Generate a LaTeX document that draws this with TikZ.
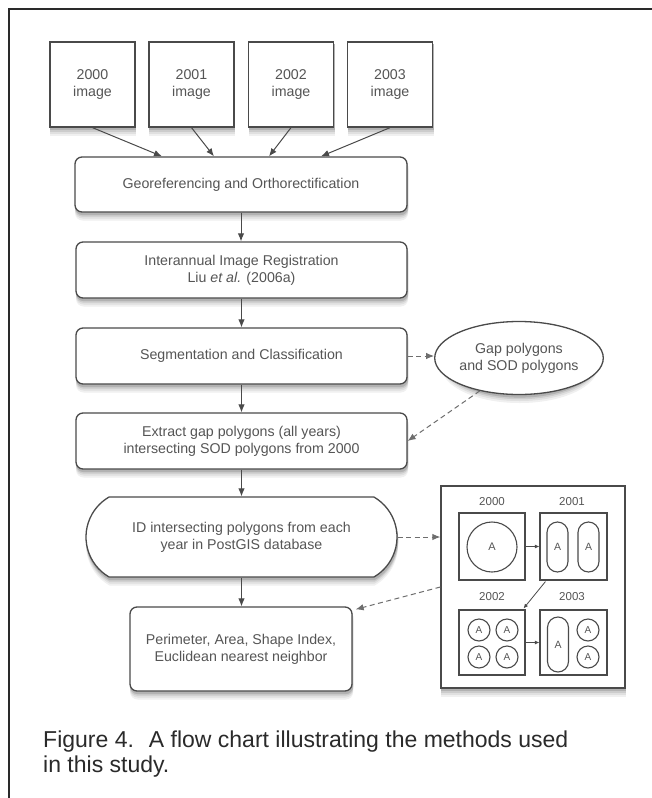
\documentclass[tikz,border=0pt]{standalone}
\usepackage{fontspec}
\setmainfont{Liberation Sans}
\usetikzlibrary{shapes.geometric,shapes.misc,arrows.meta,calc}
\definecolor{linegray}{HTML}{4A4A4A}
\definecolor{txtgray}{HTML}{555555}
\definecolor{capgray}{HTML}{2A2A2A}
% soft drop shadow: stacked grey copies of a shape, shifted down
\newcommand\ghostat[4]{% #1 shape style, #2 x, #3 y, #4 name
  \foreach \dd/\cc/\nn in {8/6/a,6/12/b,4.2/20/c,2.6/30/d}{
    \node[#1, fill=black!\cc, draw=black!\cc, line width=1pt] (gh-#4-\nn) at (#2+0.6,#3+\dd) {};}}
\begin{document}
\begin{tikzpicture}[x=1pt,y=-1pt,
  shimg/.style={rectangle, minimum width=85pt, minimum height=85pt, inner sep=0pt},
  shproc/.style={rectangle, rounded corners=7pt, minimum width=331pt, minimum height=56pt, inner sep=0pt},
  shgeo/.style={rectangle, rounded corners=7pt, minimum width=332pt, minimum height=55pt, inner sep=0pt},
  shid/.style={rounded rectangle, rounded rectangle arc length=120, minimum width=311pt, minimum height=80pt, inner sep=0pt},
  shper/.style={rectangle, rounded corners=7pt, minimum width=222pt, minimum height=84pt, inner sep=0pt},
  shgap/.style={ellipse, minimum width=156pt, minimum height=73pt, inner sep=0pt},
  shcomp/.style={rectangle, minimum width=184pt, minimum height=202pt, inner sep=0pt},
  look/.style={draw=linegray, line width=1.3pt, fill=white, text=txtgray,
    align=center, font=\fontsize{14.2}{17}\selectfont},
  sub/.style={draw=linegray, line width=1.1pt, fill=white, inner sep=0pt},
  lab/.style={text=txtgray, font=\fontsize{11.5}{13}\selectfont, inner sep=0pt},
  bigc/.style={circle, draw=linegray, line width=1.1pt, minimum size=50pt, inner sep=0pt, text=txtgray, font=\fontsize{11}{13}\selectfont},
  smallc/.style={circle, draw=linegray, line width=1.1pt, minimum size=22pt, inner sep=0pt, text=txtgray, font=\fontsize{10}{12}\selectfont},
  caps/.style={rectangle, rounded corners=10.5pt, draw=linegray, line width=1.1pt, minimum width=21pt, inner sep=0pt, text=txtgray, font=\fontsize{10.5}{12}\selectfont},
  arr/.style={draw=linegray, line width=1pt, -{Latex[length=8pt,width=6.5pt]}},
  darr/.style={arr, dashed, dash pattern=on 5pt off 3.5pt, draw=linegray!80},
  iarr/.style={draw=linegray, line width=0.8pt, -{Latex[length=4.5pt,width=4pt]}},
  captext/.style={anchor=base west, inner sep=0pt, text=capgray, font=\fontsize{23}{27}\selectfont},
]
\useasboundingbox (0,0) rectangle (652,798);
\fill[white] (0,0) rectangle (652,798);
% frame
\draw[line width=2.4pt, draw=capgray] (9,798) -- (9,9) -- (652,9);

% shadows
\ghostat{shimg}{92.5}{84.5}{img1}
\ghostat{shimg}{191.5}{84.5}{img2}
\ghostat{shimg}{291}{84.5}{img3}
\ghostat{shimg}{390}{84.5}{img4}
\ghostat{shgeo}{241}{184.5}{geo}
\ghostat{shproc}{241.5}{270}{inter}
\ghostat{shproc}{241.5}{356}{seg}
\ghostat{shproc}{241.5}{441}{extract}
\ghostat{shid}{241.5}{537}{idn}
\ghostat{shper}{241}{649}{perim}
\ghostat{shgap}{519}{358}{gap}
\ghostat{shcomp}{533}{587}{comp}

% image boxes
\node[look, shimg] (img1) at (92.5,84.5) {2000\\image};
\node[look, shimg] (img2) at (191.5,84.5) {2001\\image};
\node[look, shimg] (img3) at (291,84.5) {2002\\image};
\node[look, shimg] (img4) at (390,84.5) {2003\\image};

% process boxes
\node[look, shgeo] (geo) at (241,184.5) {Georeferencing and Orthorectification};
\node[look, shproc] (inter) at (241.5,270) {Interannual Image Registration\\Liu \textit{et al.} (2006a)};
\node[look, shproc] (seg) at (241.5,356) {Segmentation and Classification};
\node[look, shproc] (extract) at (241.5,441) {Extract gap polygons (all years)\\intersecting SOD polygons from 2000};
\node[look, shid] (idn) at (241.5,537) {ID intersecting polygons from each\\year in PostGIS database};
\node[look, shper] (perim) at (241,649) {Perimeter, Area, Shape Index,\\Euclidean nearest neighbor};

% ellipse
\node[look, shgap] (gap) at (519,358) {Gap polygons\\and SOD polygons};

% composite box
\node[look, shcomp] (comp) at (533,587) {};
\node[lab] (l0) at (492,502) {2000};
\node[lab] (l1) at (572,502) {2001};
\node[lab] (l2) at (492,597) {2002};
\node[lab] (l3) at (572,597) {2003};
\node[sub, minimum width=66pt, minimum height=67pt] (s0) at (492,546.5) {};
\node[sub, minimum width=67pt, minimum height=67pt] (s1) at (573.5,546.5) {};
\node[sub, minimum width=66pt, minimum height=65pt] (s2) at (492,642.5) {};
\node[sub, minimum width=67pt, minimum height=65pt] (s3) at (573.5,642.5) {};
\node[bigc] (c0) at (492,547) {A};
\node[caps, minimum height=50pt] (p1) at (557.5,547) {A};
\node[caps, minimum height=50pt] (p2) at (588.5,547) {A};
\node[smallc] (q1) at (479,630) {A};
\node[smallc] (q2) at (507,630) {A};
\node[smallc] (q3) at (479,657) {A};
\node[smallc] (q4) at (507,657) {A};
\node[caps, minimum height=55pt] (p3) at (558,644.5) {A};
\node[smallc] (q5) at (588,630) {A};
\node[smallc] (q6) at (588,657) {A};

% inner arrows
\draw[iarr] (s0.east) -- (s1.west);
\draw[iarr] ($(s1.south west)+(6,1)$) -- ($(s2.north east)+(-2,-1)$);
\draw[iarr] (s2.east) -- (s3.west);

% main arrows
\draw[arr] (img1.south) -- ($(geo.north)+(-79,0)$);
\draw[arr] (img2.south) -- ($(geo.north)+(-27,0)$);
\draw[arr] (img3.south) -- ($(geo.north)+(28,0)$);
\draw[arr] (img4.south) -- ($(geo.north)+(80,0)$);
\draw[arr] (geo.south) -- (geo.south |- inter.north);
\draw[arr] (inter.south) -- (seg.north);
\draw[arr] (seg.south) -- (extract.north);
\draw[arr] (extract.south) -- (idn.north);
\draw[arr] (idn.south) -- (idn.south |- perim.north);

% dashed arrows
\draw[darr] (seg.east) -- (seg.east -| gap.west);
\draw[darr] (gap.-140) -- (extract.east);
\draw[darr] (idn.east) -- (idn.east -| comp.west);
\draw[darr] (comp.west) -- ($(perim.north east)+(3,3)$);

% caption
\node[captext] (cap1) at (43,747) {Figure 4.\hspace{15pt}A flow chart illustrating the methods used};
\node[captext] (cap2) at (43,772) {in this study.};
\end{tikzpicture}
\end{document}
